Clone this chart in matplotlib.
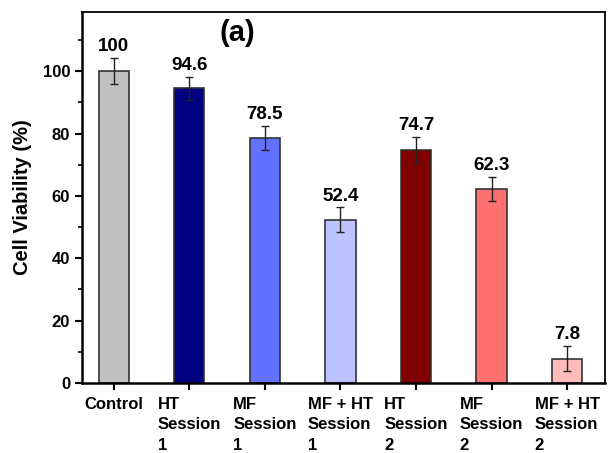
import matplotlib
matplotlib.use('Agg')
import matplotlib.pyplot as plt
from matplotlib.ticker import MultipleLocator

groups = ["Control", "HT\nSession\n1", "MF\nSession\n1", "MF + HT\nSession\n1",
          "HT\nSession\n2", "MF\nSession\n2", "MF + HT\nSession\n2"]
viability = [100, 94.6, 78.5, 52.4, 74.7, 62.3, 7.8]
errors = [4.2, 3.7, 3.9, 3.9, 4.2, 3.8, 4.0]
bar_colors = ["#C0C0C0", "#000080", "#6272FF", "#BCC3FF", "#800000", "#FF7070", "#FFBCBC"]

plt.rcParams['font.family'] = ['Liberation Sans', 'DejaVu Sans']
plt.rcParams['font.weight'] = 'bold'

fig = plt.figure(figsize=(6.16, 4.53), dpi=100)
ax = fig.add_axes([0.133, 0.1545, 0.849, 0.819])

x = list(range(len(groups)))
ax.bar(x, viability, width=0.4, color=bar_colors, edgecolor="#333333", linewidth=1.2, zorder=2)
ax.errorbar(x, viability, yerr=errors, fmt='none', ecolor="#222222", elinewidth=1,
            capsize=3, capthick=1, zorder=3)

# numbers above the error bars
for xi, v, e in zip(x, viability, errors):
    ax.annotate(f"{v:g}", (xi, v + e), xytext=(0, 2), textcoords='offset points',
                ha='center', va='bottom', fontsize=13.5, fontweight='bold')

ax.text(0.298, 0.943, "(a)", transform=ax.transAxes, ha='center', va='center',
        fontsize=21, fontweight='bold')

ax.set_xlim(-0.42, 6.5)
ax.set_ylim(0, 119)
ax.yaxis.set_major_locator(MultipleLocator(20))
ax.yaxis.set_minor_locator(MultipleLocator(10))
ax.set_xticks(x)
ax.set_xticklabels(groups, fontsize=12, fontweight='bold', linespacing=1.45, ma='left')
ax.set_ylabel("Cell Viability (%)", fontsize=14.5, fontweight='bold', labelpad=8)
for lbl in ax.get_yticklabels():
    lbl.set_fontsize(12)
    lbl.set_fontweight('bold')

ax.tick_params(axis='both', which='major', direction='out', length=5, width=1.5)
ax.tick_params(axis='y', which='minor', direction='out', length=3, width=1.2)
ax.tick_params(axis='x', pad=5)
for side in ['left', 'bottom']:
    ax.spines[side].set_linewidth(1.8)
for side in ['top', 'right']:
    ax.spines[side].set_linewidth(1.3)

fig.savefig("out.png", dpi=100)
plt.close(fig)
